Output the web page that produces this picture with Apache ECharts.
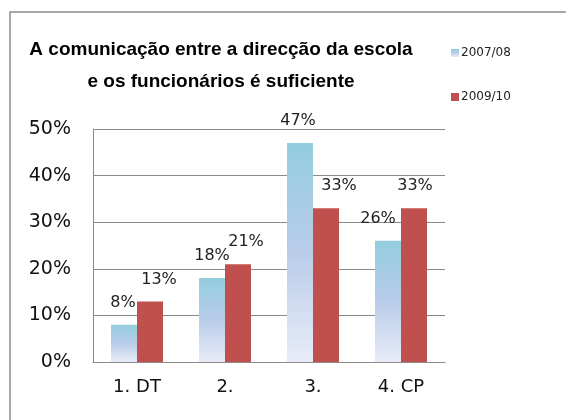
<!DOCTYPE html>
<html>
<head>
<meta charset="utf-8">
<script src="https://cdn.jsdelivr.net/npm/echarts@6/dist/echarts.min.js"></script>
<style>
  html, body { margin: 0; padding: 0; background: #fff; }
  #chart { width: 566px; height: 420px; }
</style>
</head>
<body>
<div id="chart"></div>
<script>
// Données
var categories = ['1. DT', '2.', '3.', '4. CP'];
var serie0708 = [8, 18, 47, 26];
var serie0910 = [13, 21, 33, 33];
var yTicks = [0, 10, 20, 30, 40, 50];

var chart = echarts.init(document.getElementById('chart'));

var axisColor = '#8a8a8a';
var labelFont = 'DejaVu Sans';

// Dégradé bleu clair comme dans Excel
var blueGradient = new echarts.graphic.LinearGradient(0, 0, 0, 1, [
    { offset: 0, color: '#93cddd' },
    { offset: 0.5, color: '#b9cce9' },
    { offset: 1, color: '#e8ecf8' }
]);

// petits décalages horizontaux des étiquettes (comme sur l'original)
var nudge0708 = [-1, 0, -2, -10];
var nudge0910 = [9, 8, 13, 1];

function buildData(values, nudges) {
    return values.map(function(v, i) {
        return { value: v, label: { offset: [nudges[i], 0] } };
    });
}

var option = {
    animation: false,
    graphic: [
        {
            type: 'rect',
            shape: { x: 10, y: 12, width: 600, height: 450 },
            style: { fill: 'none', stroke: '#8c8c8c', lineWidth: 1.5 },
            silent: true
        }
    ],
    title: {
        text: 'A comunicação entre a direcção da escola\ne os funcionários é suficiente',
        left: 216,
        top: 29,
        textAlign: 'center',
        textStyle: {
            fontFamily: 'Liberation Sans',
            fontWeight: 'bold',
            fontSize: 19,
            lineHeight: 32,
            color: '#000'
        }
    },
    legend: {
        orient: 'vertical',
        left: 446,
        top: 42,
        itemWidth: 8,
        itemHeight: 8,
        itemGap: 32,
        icon: 'rect',
        textStyle: { fontFamily: labelFont, fontSize: 12, color: '#222', padding: [0, 0, 0, -3] },
        data: ['2007/08', '2009/10']
    },
    grid: {
        left: 93,
        right: 121,
        top: 129,
        bottom: 58,
        containLabel: false
    },
    xAxis: {
        type: 'category',
        data: categories,
        axisTick: { show: false },
        axisLine: { lineStyle: { color: axisColor, width: 1 } },
        axisLabel: { fontFamily: labelFont, fontSize: 18, color: '#111', margin: 16 }
    },
    yAxis: {
        type: 'value',
        min: yTicks[0],
        max: yTicks[yTicks.length - 1],
        interval: 10,
        axisLine: { show: true, lineStyle: { color: axisColor, width: 1 } },
        axisTick: { show: false },
        splitLine: { lineStyle: { color: axisColor, width: 1 } },
        axisLabel: { fontFamily: labelFont, fontSize: 19, color: '#111', margin: 22, formatter: '{value}%' }
    },
    series: [
        {
            name: '2007/08',
            type: 'bar',
            barWidth: 26,
            barGap: '0%',
            itemStyle: { color: blueGradient },
            label: {
                show: true, position: 'top', distance: 14,
                fontFamily: labelFont, fontSize: 16, color: '#222',
                formatter: '{c}%'
            },
            data: buildData(serie0708, nudge0708)
        },
        {
            name: '2009/10',
            type: 'bar',
            barWidth: 26,
            itemStyle: { color: '#c0504d' },
            label: {
                show: true, position: 'top', distance: 14,
                fontFamily: labelFont, fontSize: 16, color: '#222',
                formatter: '{c}%'
            },
            data: buildData(serie0910, nudge0910)
        }
    ]
};

chart.setOption(option);
</script>
</body>
</html>
